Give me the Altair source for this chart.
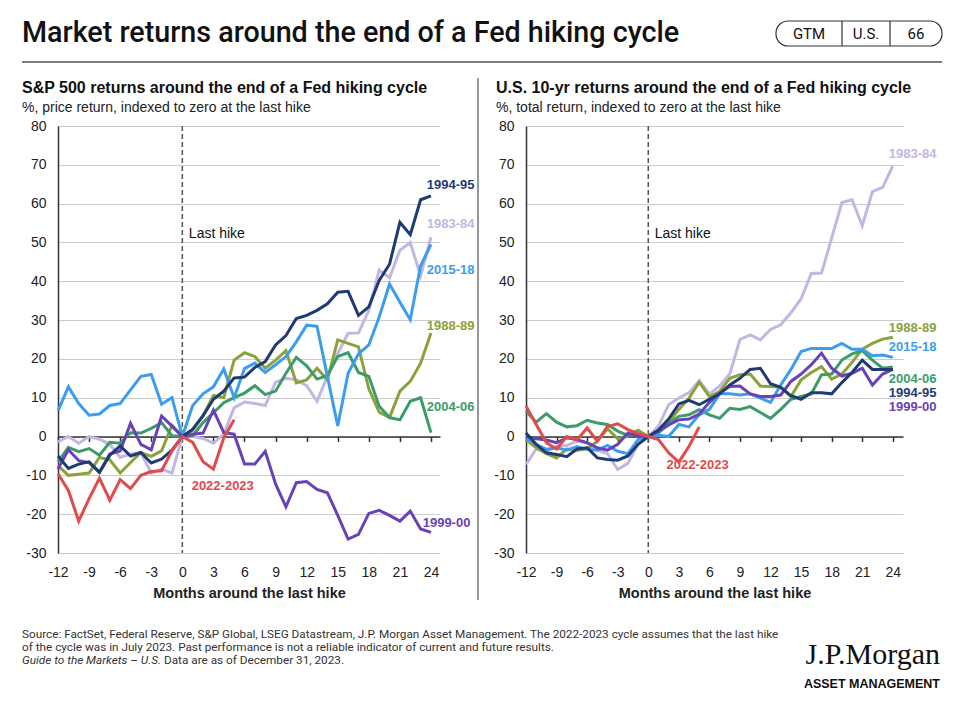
import altair as alt
import pandas as pd

# ---------------- data ----------------
months = list(range(-12, 25))
months_2022 = list(range(-12, 6))
tick_months = list(range(-12, 25, 3))
y_ticks = list(range(-30, 81, 10))

series_names = ["1983-84", "1988-89", "2004-06", "2015-18", "1999-00", "1994-95", "2022-2023"]
series_colors = ["#c3b6e3", "#89a23c", "#3d9b6a", "#3d9ded", "#6a42b8", "#1f3b73", "#e04b4b"]

# S&P 500 price return (%), months -12..24
spx_1983 = [-1.4, 0, -1.7, 0, -0.7, -2, -5.4, -4.5, -4.1, -9.4, -8.4, -9.4, 0,
            0, -0.5, -1.7, 0.6, 7.4, 8.9, 8.5, 8, 14, 15, 14.6, 13.1, 9.1, 15.5,
            21.4, 26.6, 26.7, 32.5, 42.9, 40.9, 48, 50, 41.4, 51.4]
spx_1988 = [-7.5, -10, -9.7, -9.4, -5.4, -6, -9.4, -6.7, -4.1, -5.1, -3.7, 2.9, 0,
            1.6, 5.3, 10.6, 10, 19.7, 21.6, 20.6, 17.6, 19.7, 22.1, 13.8, 14.6, 17.6,
            14.6, 24.9, 24, 23.1, 12.3, 6.3, 4.9, 11.7, 14.2, 18.9, 26.7]
spx_2004 = [-6.5, -2.8, -3.9, -3.1, -4.8, -1.5, -1.7, 1, 0.9, 2.1, 3.6, 0.2, 0,
            0.2, 3.6, 6.1, 8.7, 10, 11.2, 13.1, 10.8, 11.7, 16.3, 20.4, 18.2, 14.8,
            15.7, 20.6, 21.6, 16.5, 15.5, 7.8, 4.9, 4.3, 9.1, 10, 1]
spx_2015 = [6.6, 12.8, 8.5, 5.5, 5.8, 8, 8.5, 12, 15.5, 16, 8.3, 10, 0,
            8, 11, 12.8, 17.4, 10, 17.5, 18.9, 16.5, 18.5, 20.6, 24.4, 28.7, 28.4,
            15.5, 2.7, 16.3, 21.3, 23.6, 30.8, 39.3, 34.6, 30.1, 44, 49.5]
spx_1999 = [-8.4, -3.4, -6.2, -6.7, -9.2, -4.5, -3.7, 3.4, -2, -3.4, 5.3, 2.7, 0,
            0.6, 0.9, 6.8, 1, 0.6, -7.1, -7.1, -3.8, -12.2, -18.1, -11.9, -11.6, -13.6,
            -14.5, -20.3, -26.4, -25.2, -19.8, -19, -20.3, -21.8, -19.2, -23.8, -24.7]
spx_1994 = [-5, -8.2, -7.1, -6.5, -9.2, -4.8, -2.4, -5, -4.1, -6.8, -5.8, -3.5, 0,
            1.9, 5.4, 9.6, 11.7, 15.1, 15.3, 17.8, 19.3, 23.6, 26, 30.4, 31.2, 32.5,
            34.2, 37.2, 37.4, 31.2, 33.4, 40.2, 44.4, 55.2, 52, 61, 62]
spx_2022 = [-9.6, -13.9, -21.8, -16, -10.7, -16.4, -11.1, -13.4, -10, -9, -8.8, -3.7, 0,
            -1.5, -6.5, -8.4, -0.3, 4.3]

# U.S. 10-yr total return (%), months -12..24
ust_1983 = [-7.2, -3.2, -3.8, -2.5, -2.3, -1.2, -1.6, -3.5, -4.4, -8.5, -6.9, -2, 0,
            2.7, 8.2, 9.9, 11.3, 14.4, 11, 13, 16.1, 25, 26.2, 24.9, 27.6, 28.8,
            31.9, 35.5, 42, 42.1, 51.1, 60.3, 61, 54.3, 63.1, 64.2, 69.7]
ust_1988 = [-0.8, -2.9, -4.4, -5.5, -3.2, -3.5, -3.2, -1.2, 2, -0.6, 0.1, 1.6, 0,
            1.3, 3.6, 7, 9.9, 14, 10.3, 11.6, 15, 15.9, 16.1, 13, 12.9, 12.7,
            10.3, 14.6, 16.5, 18, 14.8, 16.1, 19.1, 22.5, 24, 25.1, 25.6]
ust_2004 = [6.5, 3.7, 5.9, 3.7, 2.5, 2.8, 4.2, 3.5, 3.1, 1.4, 0.3, 0.5, 0,
            0.9, 3.4, 5.2, 5.6, 6.9, 5.6, 4.7, 7.3, 7, 7.7, 6.2, 4.7, 7,
            9.6, 10.3, 11, 15.9, 16.1, 19.7, 21.3, 22.1, 19.7, 17.6, 17.9]
ust_2015 = [-0.3, -2, -3.3, -2.9, -3.5, -2.6, -3.3, -3.5, -2.3, -3.8, -4.4, -0.8, 0,
            0.3, 0, 3.1, 2.5, 5.6, 7, 11, 11, 10.7, 11, 9.9, 8.8, 13.3,
            17.3, 21.9, 22.7, 22.7, 22.7, 24, 22.5, 22.5, 20.8, 21, 20.4]
ust_1999 = [0.1, -0.6, -0.9, -1.6, -0.3, -0.8, -1.6, -2.9, -3.5, -2, 0.9, 0.1, 0,
            1.3, 3, 4.3, 4.5, 5.8, 8.8, 11.2, 12.9, 13, 11, 10.3, 10.3, 10.7,
            14.2, 16.1, 18.5, 21.5, 17.6, 15.6, 16.3, 17.6, 13.3, 16.1, 17.3]
ust_1994 = [0.9, -2, -4.2, -4.6, -5.2, -3.2, -2.9, -5.5, -5.9, -6.1, -5, -2, 0,
            1.7, 4.5, 8.4, 9.3, 8.2, 9.6, 11, 13.3, 15, 17.3, 17.6, 13.6, 12.7,
            10.5, 9.6, 11.3, 11.3, 11, 13.9, 16.5, 19.7, 17.3, 17.3, 17.3]
ust_2022 = [7.9, 3.1, -1.6, -3.2, 0, -0.9, 2.2, -1.2, 2.6, 3.3, 1.8, 0.8, 0,
            -0.8, -4.2, -6.6, -2.5, 2.5]

spx_values = [spx_1983, spx_1988, spx_2004, spx_2015, spx_1999, spx_1994, spx_2022]
ust_values = [ust_1983, ust_1988, ust_2004, ust_2015, ust_1999, ust_1994, ust_2022]

# end-of-line labels (month, value)
spx_label_series = ["1994-95", "1983-84", "2015-18", "1988-89", "2004-06", "1999-00", "2022-2023"]
spx_label_month = [23.6, 23.6, 23.6, 23.6, 23.6, 23.2, 0.9]
spx_label_value = [64.8, 54.8, 42.9, 28.5, 7.6, -22.3, -12.8]

ust_label_series = ["1983-84", "1988-89", "2015-18", "2004-06", "1994-95", "1999-00", "2022-2023"]
ust_label_month = [23.6, 23.6, 23.6, 23.6, 23.6, 23.6, 1.8]
ust_label_value = [72.8, 28.0, 23.1, 14.8, 11.2, 7.6, -7.3]

last_hike_month = [0.63]
last_hike_value = [52.2]
last_hike_text = ["Last hike"]

# ---------------- helpers ----------------
one = pd.DataFrame({"k": [0]})
LABEL_FONT = "Liberation Sans"


def long_frame(values):
    rows = []
    for name, vals in zip(series_names, values):
        ms = months_2022 if name == "2022-2023" else months
        for m, v in zip(ms, vals):
            rows.append({"month": m, "value": v, "series": name})
    return pd.DataFrame(rows)


def text_deco(s, x, y, size, weight="normal", font=LABEL_FONT, align="left",
              color="#1a1a1a", style="normal", baseline="middle"):
    return alt.Chart(one).mark_text(
        text=s, fontSize=size, fontWeight=weight, font=font, align=align,
        color=color, fontStyle=style, baseline=baseline
    ).encode(x=alt.value(x), y=alt.value(y))


def rule_deco(x, y, x2=None, y2=None, color="#444", width=1.2):
    enc = {"x": alt.value(x), "y": alt.value(y)}
    if x2 is not None:
        enc["x2"] = alt.value(x2)
    if y2 is not None:
        enc["y2"] = alt.value(y2)
    return alt.Chart(one).mark_rule(color=color, strokeWidth=width).encode(**enc)


def panel(values, lab_series, lab_month, lab_value, xmax, width, height, pre_layers):
    df = long_frame(values)
    xs = alt.Scale(domain=[-12, xmax], nice=False, zero=False)
    ys = alt.Scale(domain=[-30, 80], nice=False, zero=False)
    cs = alt.Scale(domain=series_names, range=series_colors)
    zero_offset = -(height * 30 / 110)
    xaxis = alt.Axis(values=tick_months, orient="bottom", offset=zero_offset,
                     tickSize=5, tickColor="#333", tickWidth=1.5,
                     domainColor="#333", domainWidth=1.5,
                     labelPadding=124, labelFontSize=14, labelColor="#222",
                     labelFont=LABEL_FONT, labelFlush=False,
                     labelExpr="'' + datum.value",
                     title="Months around the last hike", titleFontSize=14.5,
                     titleFont=LABEL_FONT, titleFontWeight="bold",
                     titleColor="#222", titlePadding=7, grid=False)
    yaxis = alt.Axis(values=y_ticks, ticks=False, domainColor="#333", domainWidth=1.5,
                     labelPadding=12, labelFontSize=14, labelColor="#222",
                     labelFont=LABEL_FONT, labelExpr="'' + datum.value",
                     grid=True, gridColor="#cccccc", gridWidth=1, title=None)

    def X():
        return alt.X("month:Q", scale=xs, axis=xaxis)

    def Y():
        return alt.Y("value:Q", scale=ys, axis=yaxis)

    lines = alt.Chart(df).mark_line(strokeWidth=3).encode(
        x=X(), y=Y(), color=alt.Color("series:N", scale=cs, legend=None))

    dash = alt.Chart(pd.DataFrame({"month": [0]})).mark_rule(
        strokeDash=[5, 3], color="#555", strokeWidth=1.5).encode(x=X())

    lab_df = pd.DataFrame({"series": lab_series, "month": lab_month, "value": lab_value})
    labels = alt.Chart(lab_df).mark_text(
        align="left", baseline="middle", fontSize=13, fontWeight="bold", font=LABEL_FONT
    ).encode(x=X(), y=Y(), text="series:N",
             color=alt.Color("series:N", scale=cs, legend=None))

    lh_df = pd.DataFrame({"month": last_hike_month, "value": last_hike_value, "t": last_hike_text})
    lh = alt.Chart(lh_df).mark_text(
        align="left", baseline="middle", fontSize=14, font=LABEL_FONT, color="#111"
    ).encode(x=X(), y=Y(), text="t:N")

    return alt.layer(*pre_layers, dash, lines, labels, lh).properties(width=width, height=height)


# ---------------- decorations (left panel pixel space; plot origin at page 58,126) ----------------
# tiny corner anchor so the page origin is fixed
anchor = alt.Chart(one).mark_rect(fill="white").encode(
    x=alt.value(-50), x2=alt.value(-49), y=alt.value(-118), y2=alt.value(-117))

FOOT = 11.75
decos = [
    anchor,
    text_deco("Market returns around the end of a Fed hiking cycle", -36, -93, 28.7,
              weight=500, font="Roboto", color="#111"),
    rule_deco(-36, -64, x2=884, color="#555", width=1.5),
    alt.Chart(one).mark_rect(cornerRadius=12, fill="white", stroke="#333", strokeWidth=1.2).encode(
        x=alt.value(718), x2=alt.value(884), y=alt.value(-105), y2=alt.value(-80)),
    rule_deco(784, -105, y2=-80, color="#333", width=1.2),
    rule_deco(832, -105, y2=-80, color="#333", width=1.2),
    text_deco("GTM", 751, -92, 15, font="Roboto", align="center", color="#111"),
    text_deco("U.S.", 808, -92, 15, font="Roboto", align="center", color="#111"),
    text_deco("66", 858, -92, 15, font="Roboto", align="center", color="#111"),
    text_deco("S&P 500 returns around the end of a Fed hiking cycle", -36, -38, 16, weight="bold", color="#111"),
    text_deco("%, price return, indexed to zero at the last hike", -36, -18, 14, color="#222"),
    text_deco("U.S. 10-yr returns around the end of a Fed hiking cycle", 438, -38, 16, weight="bold", color="#111"),
    text_deco("%, total return, indexed to zero at the last hike", 438, -18, 14, color="#222"),
    rule_deco(420, -48, y2=474, color="#333", width=1),
    text_deco("Source: FactSet, Federal Reserve, S&P Global, LSEG Datastream, J.P. Morgan Asset Management. "
              "The 2022-2023 cycle assumes that the last hike", -36, 508, FOOT, font="Roboto", color="#333"),
    text_deco("of the cycle was in July 2023. Past performance is not a reliable indicator of current and future results.",
              -36, 521, FOOT, font="Roboto", color="#333"),
    text_deco("Guide to the Markets \u2013 U.S.", -36, 534, FOOT, font="Roboto", color="#333", style="italic"),
    text_deco("Data are as of December 31, 2023.", 106, 534, FOOT, font="Roboto", color="#333"),
    text_deco("J.P.Morgan", 882, 529, 30, font="Liberation Serif", align="right", color="#111"),
    text_deco("ASSET MANAGEMENT", 882, 558, 12.5, weight="bold", align="right", color="#111"),
]

left = panel(spx_values, spx_label_series, spx_label_month, spx_label_value,
             24.87, 382, 427, decos)
right = panel(ust_values, ust_label_series, ust_label_month, ust_label_value,
              25.0, 377, 427, [])

chart = alt.hconcat(left, right, spacing=86, bounds="flush", padding=0,
                    background="white").configure_view(strokeWidth=0)

chart.save("out.html", embed_options={"renderer": "svg", "actions": False})
